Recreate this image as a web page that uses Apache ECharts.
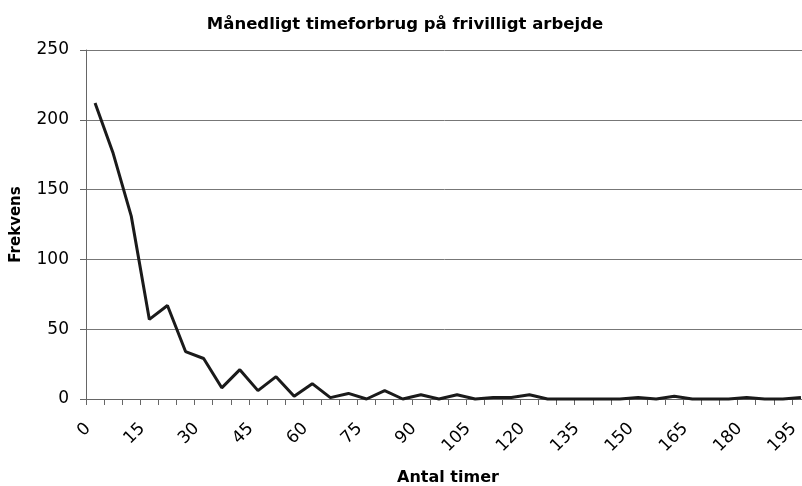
<!DOCTYPE html>
<html><head><meta charset="utf-8">
<script src="https://cdn.jsdelivr.net/npm/echarts@6/dist/echarts.min.js"></script>
<style>html,body{margin:0;padding:0;background:#fff}#c{width:802px;height:486px}</style>
</head><body><div id="c"></div>
<script>
const categories = ["0","5","10","15","20","25","30","35","40","45","50","55","60","65","70","75","80","85","90","95","100","105","110","115","120","125","130","135","140","145","150","155","160","165","170","175","180","185","190","195"];
const frequency = [212,176,131,57,67,34,29,8,21,6,16,2,11,1,4,0,6,0,3,0,3,0,1,1,3,0,0,0,0,0,1,0,2,0,0,0,1,0,0,1];
const yTicks = [0,50,100,150,200,250];

const FONT = 'DejaVu Sans';
const chart = echarts.init(document.getElementById('c'), null, {renderer:'canvas'});
chart.setOption({
  animation:false,
  backgroundColor:'#fff',
  title:{text:'Månedligt timeforbrug på frivilligt arbejde', left:400, top:11, textAlign:'center',
    textStyle:{fontFamily:FONT, fontSize:16.5, fontWeight:'bold', color:'#000'}},
  grid:{left:86, top:50, width:724, height:349, containLabel:false, outerBoundsMode:'none'},
  xAxis:{type:'category', data:categories, boundaryGap:true,
    name:'Antal timer', nameLocation:'middle', nameGap:71,
    nameTextStyle:{fontFamily:FONT, fontSize:16, fontWeight:'bold', color:'#000'},
    axisLine:{lineStyle:{color:'#666', width:1}},
    axisTick:{show:true, interval:0, length:6, lineStyle:{color:'#666'}},
    axisLabel:{interval:2, rotate:45, fontFamily:FONT, fontSize:17, color:'#000', margin:20, padding:[0,10,0,0]}
  },
  yAxis:{type:'value', min:0, max:250, interval:50,
    name:'Frekvens', nameLocation:'middle', nameGap:62, nameRotate:90,
    nameTextStyle:{fontFamily:FONT, fontSize:15, fontWeight:'bold', color:'#000'},
    axisLine:{show:true, lineStyle:{color:'#666'}},
    axisTick:{show:true, length:6, lineStyle:{color:'#666'}},
    axisLabel:{fontFamily:FONT, fontSize:17, color:'#000', margin:17,
      formatter:v=>yTicks.includes(v)?String(v):''},
    splitLine:{show:true, lineStyle:{color:'#777', width:1}}
  },
  series:[{type:'line', data:frequency, symbol:'none', lineStyle:{color:'#1a1a1a', width:3}, clip:false}]
});
</script></body></html>
